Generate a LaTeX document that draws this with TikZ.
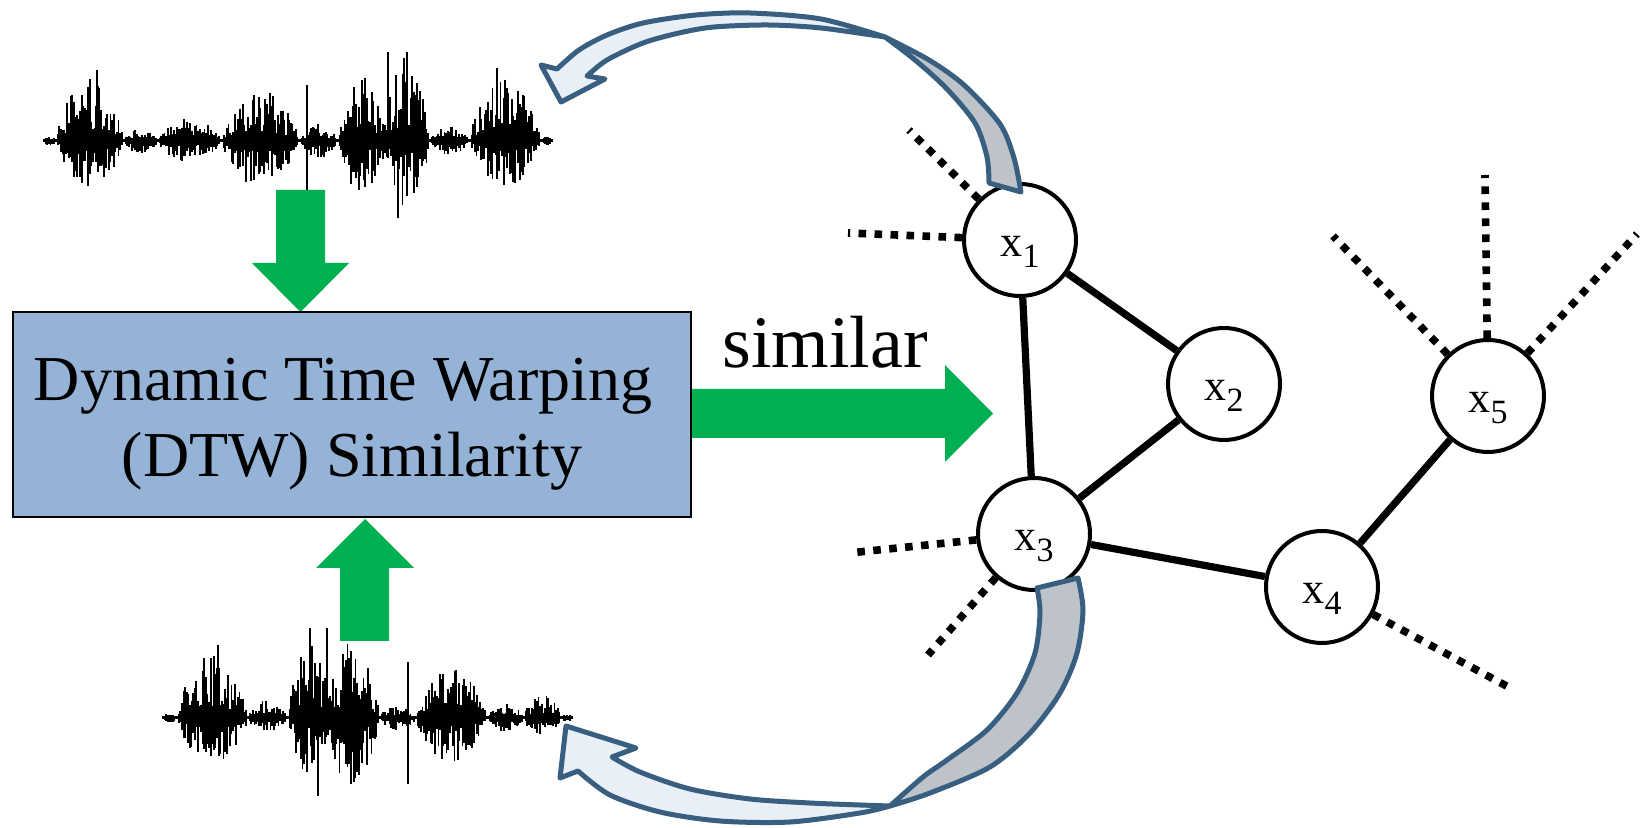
\documentclass[tikz,border=0pt]{standalone}
\usepackage{fontspec}
\setmainfont{Liberation Serif}
\usepackage{xcolor}
\usepackage{tikz}

\definecolor{dtwblue}{RGB}{149,179,215}
\definecolor{flowgreen}{RGB}{0,176,80}
\definecolor{arrowrim}{RGB}{56,94,128}
\definecolor{backface}{RGB}{189,195,200}
\definecolor{frontface}{RGB}{233,239,247}

\tikzset{
  vtx/.style={circle, draw, fill=white, line width=2pt, minimum size=56pt, inner sep=0pt,
    text height=16.5pt, text depth=0pt, font=\fontsize{22}{22}\selectfont},
  link/.style={line width=3.6pt},
  dotline/.style={line width=3.8pt, dash pattern=on 3.8pt off 4.2pt},
  wavline/.style={line width=0.9pt},
  ribbon/.style={draw=arrowrim, line width=2.5pt, line join=round},
}

% subscript of a vertex label
\newcommand{\nsub}[1]{\raisebox{-5.5pt}{\fontsize{17}{17}\selectfont #1}}

% one burst of a waveform: baseline y, from x, to x, rise, fall
\newcommand{\wavseg}[5]{%
  \pgfmathtruncatemacro{\wn}{(#3-#2)/1.6}
  \foreach \wi in {0,...,\wn}{
    \pgfmathsetmacro{\wx}{#2+1.6*\wi}
    \pgfmathsetmacro{\wenv}{max(0,sin(180*\wi/\wn))^0.7}
    \pgfmathsetmacro{\wup}{#4*\wenv*(0.15+0.85*rnd)+1.5}
    \pgfmathsetmacro{\wdn}{#5*\wenv*(0.15+0.85*rnd)+1.5}
    \draw[wavline] (\wx,#1-\wup) -- (\wx,#1+\wdn);
  }}

\begin{document}
\begin{tikzpicture}[x=0.5pt,y=0.5pt,yscale=-1,xscale=1]
\useasboundingbox (0,0) rectangle (1646,828);
\pgfmathsetseed{41}

%Waveform: upper signal
\draw[line width=1.5pt] (44,141) -- (553,141);
\wavseg{141}{44}{56}{3}{3}
\wavseg{141}{56}{124}{62}{44}
\wavseg{141}{124}{158}{11}{11}
\wavseg{141}{158}{222}{22}{20}
\wavseg{141}{222}{300}{50}{46}
\wavseg{141}{300}{338}{16}{16}
\wavseg{141}{338}{386}{66}{50}
\wavseg{141}{380}{430}{82}{64}
\wavseg{141}{430}{470}{13}{13}
\wavseg{141}{470}{542}{62}{44}
\wavseg{141}{542}{553}{3}{3}
\draw[wavline] (97,141-71) -- (97,141);
\draw[wavline] (270,141-48) -- (270,141);
\draw[wavline] (307,141-56) -- (307,141+49);
\draw[wavline] (388,141-89) -- (388,141);
\draw[wavline] (407,141-89) -- (407,141);
\draw[wavline] (398,141) -- (398,141+77);
\draw[wavline] (497,141-73) -- (497,141);

%Waveform: lower signal
\draw[line width=1.5pt] (163,718) -- (572,718);
\wavseg{718}{163}{177}{3}{3}
\wavseg{718}{177}{248}{62}{44}
\wavseg{718}{248}{288}{16}{12}
\wavseg{718}{288}{332}{78}{56}
\wavseg{718}{325}{380}{76}{66}
\wavseg{718}{380}{416}{11}{11}
\wavseg{718}{416}{488}{50}{44}
\wavseg{718}{488}{524}{14}{12}
\wavseg{718}{524}{562}{22}{17}
\wavseg{718}{562}{572}{3}{3}
\draw[wavline] (218,718-73) -- (218,718);
\draw[wavline] (310,718-90) -- (310,718);
\draw[wavline] (327,718-90) -- (327,718);
\draw[wavline] (318,718) -- (318,718+78);
\draw[wavline] (408,718-56) -- (408,718+66);

%Shape: Down Arrow
\fill[flowgreen] (276,190) -- (325,190) -- (325,263) -- (349,263) -- (300.5,312) -- (252,263) -- (276,263) -- cycle;
%Shape: Up Arrow
\fill[flowgreen] (340,641) -- (340,568) -- (316,568) -- (365,519) -- (414,568) -- (389,568) -- (389,641) -- cycle;
%Shape: Right Arrow
\fill[flowgreen] (691,389) -- (945,389) -- (945,365) -- (993,413.5) -- (945,462) -- (945,438) -- (691,438) -- cycle;

%Shape: Rectangle
\node[draw, fill=dtwblue, line width=1pt, minimum width=339pt, minimum height=102.5pt, inner sep=0pt,
  align=center, font=\fontsize{32}{38}\selectfont] (dtw) at (352,414.5)
  {\rule{0pt}{31pt}Dynamic Time Warping\hspace*{9pt}\\(DTW) Similarity};
\node[anchor=base, inner sep=0pt, font=\fontsize{37}{37}\selectfont] (simtxt) at (825,368) {similar};

%Shape: Circles
\node[vtx] (x1) at (1020,240) {x\nsub{1}};
\node[vtx] (x2) at (1224,384) {x\nsub{2}};
\node[vtx] (x3) at (1034,534) {x\nsub{3}};
\node[vtx] (x4) at (1322,587) {x\nsub{4}};
\node[vtx] (x5) at (1488,396) {x\nsub{5}};

%Straight Lines
\draw[link] (x1) -- (x2);
\draw[link] (x1) -- (x3);
\draw[link] (x2) -- (x3);
\draw[link] (x3) -- (x4);
\draw[link] (x4) -- (x5);

%Dotted Lines
\coordinate (d1a) at (909,130);
\coordinate (d1b) at (848,233);
\coordinate (d3a) at (849,553);
\coordinate (d3b) at (928,655);
\coordinate (d4a) at (1514,690);
\coordinate (d5a) at (1333,236);
\coordinate (d5b) at (1485,175);
\coordinate (d5c) at (1637,234);
\draw[dotline] (x1) -- (d1a);
\draw[dotline] (x1) -- (d1b);
\draw[dotline] (x3) -- (d3a);
\draw[dotline] (x3) -- (d3b);
\draw[dotline] (x4) -- (d4a);
\draw[dotline] (x5) -- (d5a);
\draw[dotline] (x5) -- (d5b);
\draw[dotline] (x5) -- (d5c);

%Curve Lines: upper curved arrow
\filldraw[ribbon, fill=backface] plot[smooth] coordinates {(885,37) (929,60) (964,85) (1000,124) (1014,158) (1021,192)}
  -- plot[smooth] coordinates {(989,183) (987,157) (975,123) (946,88) (915,60) (885,37)} -- cycle;
\filldraw[ribbon, fill=frontface] plot[smooth] coordinates {(885,37) (821,19) (750,13) (696,15) (643,23) (607,35) (579,50) (557,69)}
  -- (541,65) -- (561,102) -- (605,79)
  -- plot[smooth] coordinates {(587,76) (607,60) (643,43) (679,33) (714,27) (768,25) (821,28) (885,37)} -- cycle;

%Curve Lines: lower curved arrow
\filldraw[ribbon, fill=backface] plot[smooth] coordinates {(890,806) (930,793) (990,767) (1030,733) (1060,693) (1077,653) (1083,610) (1078,578)}
  -- plot[smooth] coordinates {(1037,588) (1040,613) (1035,653) (1017,693) (987,730) (947,760) (923,777) (890,806)} -- cycle;
\filldraw[ribbon, fill=frontface] plot[smooth] coordinates {(890,806) (860,813) (790,822) (720,821) (660,812) (610,795) (578,771)}
  -- (560,778) -- (566,726) -- (636,748)
  -- plot[smooth] coordinates {(612,757) (640,772) (690,789) (750,799) (810,803) (860,805) (890,806)} -- cycle;

\end{tikzpicture}
\end{document}
